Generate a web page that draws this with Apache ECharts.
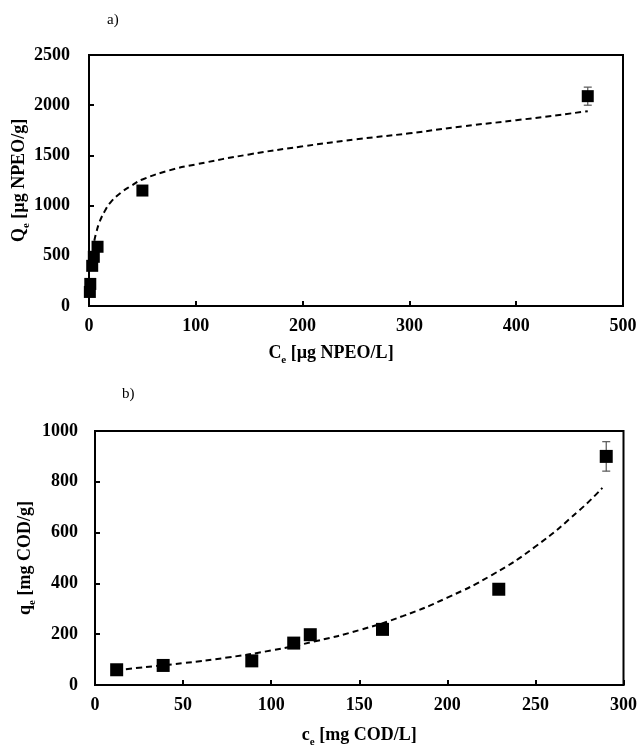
<!DOCTYPE html>
<html>
<head>
<meta charset="utf-8">
<script src="https://cdn.jsdelivr.net/npm/echarts@6/dist/echarts.min.js"></script>
<style>html,body{margin:0;padding:0;background:#fff}#c{width:640px;height:749px}</style>
</head>
<body>
<div id="c"></div>
<script>
// Panel a) NPEO isotherm
const aPoints = [[0.8, 140], [1.2, 220], [3, 400], [4.5, 490], [8, 590], [50, 1150], [467, 2090]];
const aErrors = [[467, 2000, 2180]];
const aFit = [[5, 650], [7, 740], [10, 840], [15, 950], [20, 1030], [30, 1130], [40, 1200], [50, 1260], [75, 1350], [100, 1410], [150, 1510], [200, 1590], [250, 1660], [300, 1720], [350, 1790], [400, 1850], [467, 1940]];
const aXTicks = [0, 100, 200, 300, 400, 500];
const aYTicks = [0, 500, 1000, 1500, 2000, 2500];

// Panel b) COD isotherm
const bPoints = [[12.3, 60], [38.7, 77], [89, 95], [112.8, 165], [122.2, 198], [163.2, 219], [229.2, 377], [290.2, 900]];
const bErrors = [[290.2, 842, 958]];
const bFit = [[12, 58], [25, 68], [50, 86], [75, 108], [100, 136], [125, 172], [150, 216], [175, 272], [200, 344], [225, 432], [250, 545], [275, 688], [288, 776]];
const bXTicks = [0, 50, 100, 150, 200, 250, 300];
const bYTicks = [0, 200, 400, 600, 800, 1000];

const FONT = '"Liberation Serif", "Times New Roman", serif';
const chart = echarts.init(document.getElementById('c'), null, {renderer: 'canvas'});

function nameStyle(extra) {
  return Object.assign({
    fontFamily: FONT, fontWeight: 'bold', fontSize: 18, color: '#000',
    rich: {
      b: {fontFamily: FONT, fontWeight: 'bold', fontSize: 18, color: '#000', verticalAlign: 'bottom', padding: [0, 0, 4, 0]},
      s: {fontFamily: FONT, fontWeight: 'bold', fontSize: 11, color: '#000', verticalAlign: 'bottom'}
    }
  }, extra || {});
}
function axisCommon(ticks) {
  return {
    min: ticks[0], max: ticks[ticks.length - 1], interval: ticks[1] - ticks[0],
    nameMoveOverlap: false,
    axisLine: {show: true, onZero: false, lineStyle: {color: '#000', width: 2}},
    axisTick: {show: true, inside: true, length: 5, lineStyle: {color: '#000', width: 2}},
    splitLine: {show: false},
    axisLabel: {fontFamily: FONT, fontWeight: 'bold', fontSize: 18, color: '#000', formatter: v => String(v)}
  };
}
function errItem(params, api) {
  const x = api.value(0), lo = api.value(1), hi = api.value(2);
  const p1 = api.coord([x, lo]), p2 = api.coord([x, hi]);
  const w = 4;
  const st = {stroke: '#555', lineWidth: 1.2};
  return {type: 'group', children: [
    {type: 'line', shape: {x1: p1[0], y1: p1[1], x2: p2[0], y2: p2[1]}, style: st},
    {type: 'line', shape: {x1: p1[0] - w, y1: p1[1], x2: p1[0] + w, y2: p1[1]}, style: st},
    {type: 'line', shape: {x1: p2[0] - w, y1: p2[1], x2: p2[0] + w, y2: p2[1]}, style: st}
  ]};
}

const xa = Object.assign(axisCommon(aXTicks), {gridIndex: 0, type: 'value', position: 'bottom',
  name: '{b|C}{s|e}{b| [µg NPEO/L]}', nameLocation: 'middle', nameGap: 38, nameTextStyle: nameStyle({padding: [0, 50, 0, 0]})});
xa.axisLabel.margin = 11;
const ya = Object.assign(axisCommon(aYTicks), {gridIndex: 0, type: 'value', position: 'left',
  name: '{b|Q}{s|e}{b| [µg NPEO/g]}', nameLocation: 'middle', nameRotate: 90, nameGap: 57, nameTextStyle: nameStyle()});
ya.axisLabel.margin = 19;
const xb = Object.assign(axisCommon(bXTicks), {gridIndex: 1, type: 'value', position: 'bottom',
  name: '{b|c}{s|e}{b| [mg COD/L]}', nameLocation: 'middle', nameGap: 41, nameTextStyle: nameStyle()});
xb.axisLabel.margin = 11;
const yb = Object.assign(axisCommon(bYTicks), {gridIndex: 1, type: 'value', position: 'left',
  name: '{b|q}{s|e}{b| [mg COD/g]}', nameLocation: 'middle', nameRotate: 90, nameGap: 57, nameTextStyle: nameStyle()});
yb.axisLabel.margin = 17;

chart.setOption({
  animation: false,
  backgroundColor: '#fff',
  title: [
    {text: 'a)', left: 102, top: 8, textStyle: {fontFamily: FONT, fontWeight: 'normal', fontSize: 15, color: '#000'}},
    {text: 'b)', left: 117, top: 382, textStyle: {fontFamily: FONT, fontWeight: 'normal', fontSize: 15, color: '#000'}}
  ],
  grid: [
    {left: 89, top: 55, width: 534, height: 251, show: true, borderColor: '#000', borderWidth: 2, backgroundColor: 'transparent'},
    {left: 95, top: 431, width: 529, height: 259, show: true, borderColor: '#000', borderWidth: 2, backgroundColor: 'transparent'}
  ],
  xAxis: [xa, xb],
  yAxis: [ya, yb],
  series: [
    {type: 'line', xAxisIndex: 0, yAxisIndex: 0, data: aFit, smooth: true, showSymbol: false, symbol: 'none',
      lineStyle: {color: '#000', width: 2, type: [6, 4]}, z: 2},
    {type: 'custom', xAxisIndex: 0, yAxisIndex: 0, data: aErrors, renderItem: errItem, z: 3},
    {type: 'scatter', xAxisIndex: 0, yAxisIndex: 0, data: aPoints, symbol: 'rect', symbolSize: 12,
      itemStyle: {color: '#000', opacity: 1}, z: 4},
    {type: 'line', xAxisIndex: 1, yAxisIndex: 1, data: bFit, smooth: true, showSymbol: false, symbol: 'none',
      lineStyle: {color: '#000', width: 2, type: [6, 4]}, z: 2},
    {type: 'custom', xAxisIndex: 1, yAxisIndex: 1, data: bErrors, renderItem: errItem, z: 3},
    {type: 'scatter', xAxisIndex: 1, yAxisIndex: 1, data: bPoints, symbol: 'rect', symbolSize: 13,
      itemStyle: {color: '#000', opacity: 1}, z: 4}
  ]
});
</script>
</body>
</html>
